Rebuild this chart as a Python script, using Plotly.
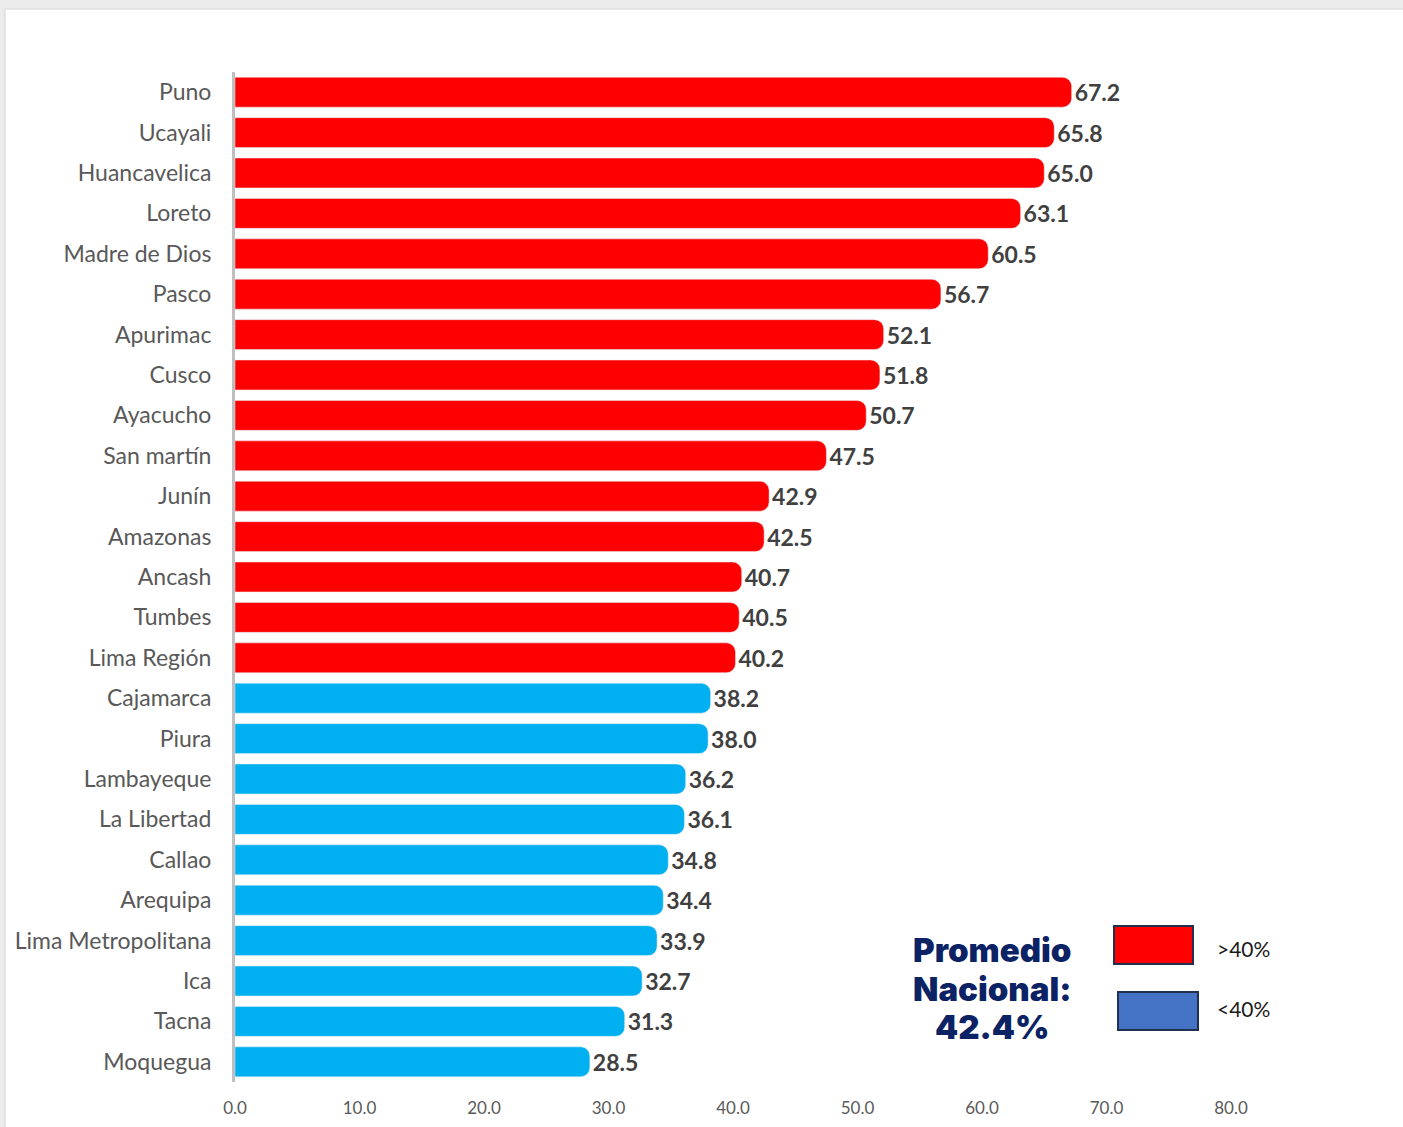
import plotly.graph_objects as go

regions = ["Puno", "Ucayali", "Huancavelica", "Loreto", "Madre de Dios", "Pasco",
           "Apurimac", "Cusco", "Ayacucho", "San martín", "Junín", "Amazonas",
           "Ancash", "Tumbes", "Lima Región", "Cajamarca", "Piura", "Lambayeque",
           "La Libertad", "Callao", "Arequipa", "Lima Metropolitana", "Ica",
           "Tacna", "Moquegua"]
values = [67.2, 65.8, 65.0, 63.1, 60.5, 56.7, 52.1, 51.8, 50.7, 47.5, 42.9, 42.5,
          40.7, 40.5, 40.2, 38.2, 38.0, 36.2, 36.1, 34.8, 34.4, 33.9, 32.7, 31.3, 28.5]
threshold = 40.0
national_avg = 42.4
avg_lines = ["Promedio", "Nacional:", f"{national_avg}%"]
legend_labels = [">40%", "<40%"]

RED = "#ff0000"
BLUE = "#00b0f0"
LEG_BLUE = "#4472c4"
NAVY = "#0b2265"

colors = [RED if v > threshold else BLUE for v in values]

W, H = 1403, 1127
ML, MR, MT, MB = 235, 172, 72, 45
PW = W - ML - MR
PH = H - MT - MB

def px_x(p):
    return (p - ML) / PW

def px_y(p):
    return (H - MB - p) / PH

fig = go.Figure(go.Bar(
    y=regions, x=values, orientation="h",
    marker=dict(color=colors, cornerradius=9),
    texttemplate="%{x:.1f}", textposition="outside",
    textfont=dict(family="Lato", size=23, color="#404040", weight="bold"),
    cliponaxis=False, hoverinfo="skip",
))

shapes = [
    dict(type="rect", xref="paper", yref="paper", layer="below",
         x0=px_x(5), x1=px_x(1410), y0=px_y(1135), y1=px_y(9),
         fillcolor="white", line=dict(color="#d6d6d6", width=1)),
    dict(type="rect", xref="paper", yref="paper",
         x0=px_x(1114), x1=px_x(1193), y0=px_y(964), y1=px_y(926),
         fillcolor=RED, line=dict(color="#1f3050", width=2)),
    dict(type="rect", xref="paper", yref="paper",
         x0=px_x(1118), x1=px_x(1198), y0=px_y(1030), y1=px_y(992),
         fillcolor=LEG_BLUE, line=dict(color="#1f3050", width=2)),
]

annotations = []
for line_text, ypx in zip(avg_lines, [950, 989, 1027]):
    annotations.append(dict(
        xref="paper", yref="paper", x=px_x(992), y=px_y(ypx),
        text=line_text, showarrow=False,
        font=dict(family="Inter", size=33, color=NAVY, weight=900),
        xanchor="center", yanchor="middle"))
for lab, ypx in zip(legend_labels, [948, 1008]):
    annotations.append(dict(
        xref="paper", yref="paper", x=px_x(1215), y=px_y(ypx),
        text=lab, showarrow=False, xanchor="left", yanchor="middle",
        font=dict(family="Lato", size=21, color="#1a1a1a")))

fig.update_layout(
    width=W, height=H,
    margin=dict(l=ML, r=MR, t=MT, b=MB, autoexpand=False),
    paper_bgcolor="#ebebeb", plot_bgcolor="white",
    bargap=0.26, showlegend=False,
    shapes=shapes, annotations=annotations,
    xaxis=dict(range=[0, 80], dtick=10, tickformat=".1f", showgrid=False,
               zeroline=False, showline=False, ticks="", automargin=False,
               tickfont=dict(family="Lato", size=17, color="#595959"),
               ticklabelstandoff=14),
    yaxis=dict(autorange="reversed", showgrid=False, zeroline=False,
               showline=True, linecolor="#bfbfbf", linewidth=3, ticks="",
               automargin=False,
               tickfont=dict(family="Lato", size=23, color="#595959"),
               ticklabelstandoff=16),
)

fig.write_html(
    "out.html",
    config={"displayModeBar": False},
    post_script="document.body.style.margin='0';document.body.style.background='#ebebeb';document.body.style.overflow='hidden';",
)
